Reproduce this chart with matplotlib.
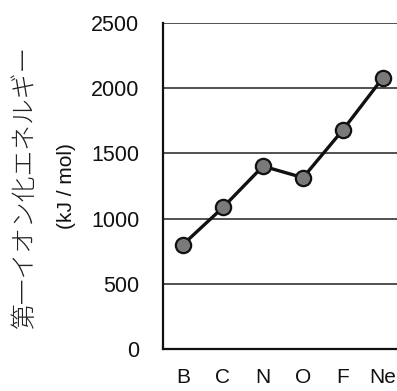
import matplotlib
matplotlib.use("Agg")
import matplotlib.pyplot as plt

elements = ["B", "C", "N", "O", "F", "Ne"]
energy = [801, 1086, 1402, 1314, 1681, 2081]
y_ticks = [0, 500, 1000, 1500, 2000, 2500]

plt.rcParams["font.family"] = ["Liberation Sans", "DejaVu Sans"]

fig = plt.figure(figsize=(3.97, 3.91), dpi=100)
# plot area runs past the right edge, like the cropped original
ax = fig.add_axes([163 / 397, 42 / 391, 240 / 397, 326 / 391])

x = list(range(len(elements)))
ax.plot(x, energy, color="#111111", lw=2.4, marker="o", markersize=11,
        markerfacecolor="#7a7a7a", markeredgecolor="#111111", markeredgewidth=1.6,
        zorder=3)

ax.set_xlim(-0.5, 5.5)
ax.set_ylim(0, 2500)
ax.set_yticks(y_ticks)
ax.set_xticks(x)
ax.set_xticklabels(elements)
ax.grid(axis="y", color="#222222", lw=1.1)
ax.set_axisbelow(True)
ax.tick_params(length=0, colors="#111111")
ax.tick_params(axis="y", pad=17, labelsize=15.5)
ax.tick_params(axis="x", pad=14, labelsize=15)
for side in ["top", "right"]:
    ax.spines[side].set_visible(False)
for side in ["left", "bottom"]:
    ax.spines[side].set_linewidth(1.6)
    ax.spines[side].set_color("#111111")

fig.text(25 / 397, 1 - 186 / 391, "第一イオン化エネルギー", rotation=90,
         ha="center", va="center", fontsize=18.5, color="#222222",
         family=["Noto Sans CJK JP", "DejaVu Sans"], fontweight="light")
fig.text(66 / 397, 1 - 186 / 391, "(kJ / mol)", rotation=90,
         ha="center", va="center", fontsize=15, color="#111111")

fig.savefig("out.png", dpi=100)
